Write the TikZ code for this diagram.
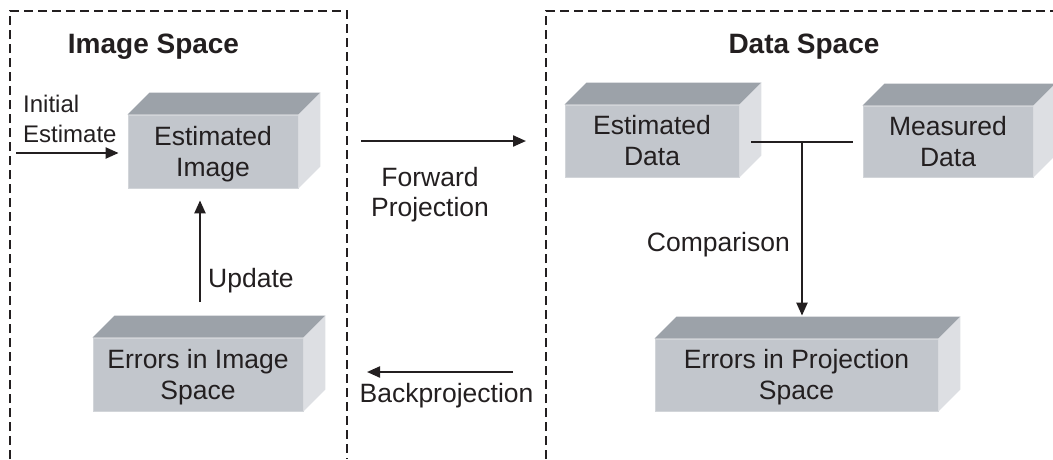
\documentclass[tikz,border=0pt]{standalone}
\usepackage{fontspec}
\setmainfont{Liberation Sans}
\usetikzlibrary{arrows.meta}
\definecolor{frontc}{HTML}{C2C6CC}
\definecolor{topc}{HTML}{9CA2A9}
\definecolor{sidec}{HTML}{DDDFE3}
\definecolor{edgec}{HTML}{D2D5D9}
\definecolor{ink}{HTML}{231F20}
\newcommand\cubestrut{\vrule height 24pt depth 6pt width 0pt}
\newcommand\lblstrut{\vrule height 20pt depth 6pt width 0pt}
\newcommand\cubefaces[1]{%
  \fill[topc] (#1.north west) -- ++(22,-22) -- ([shift={(22,-22)}]#1.north east) -- (#1.north east) -- cycle;
  \fill[sidec] (#1.north east) -- ++(22,-22) -- ([shift={(22,-22)}]#1.south east) -- (#1.south east) -- cycle;}
\begin{document}
\begin{tikzpicture}[x=1pt,y=-1pt,
  cube/.style={fill=frontc, draw=edgec, line width=0.8pt, inner sep=0pt, align=center,
    text=ink, font=\fontsize{26.5}{31}\selectfont},
  lbl/.style={inner sep=0pt, text=ink, font=\fontsize{26.5}{30}\selectfont},
  ttl/.style={inner sep=0pt, text=ink, font=\fontsize{28}{34}\selectfont\bfseries},
  region/.style={draw=ink, line width=2.4pt, dash pattern=on 9pt off 5pt},
  link/.style={draw=ink, line width=2.2pt},
  arr/.style={draw=ink, line width=2.2pt, -{Triangle[length=13pt,width=11pt]}}]
\useasboundingbox (0,0) rectangle (1053,459);

% dashed regions
\draw[region] (10,459) -- (10,11) -- (347,11) -- (347,459);
\draw[region] (546,459) -- (546,11) -- (1060,11);

% titles
\node[ttl, anchor=base] (t1) at (153.5,53) {Image Space};
\node[ttl, anchor=base] (t2) at (804,53) {Data Space};

% boxes
\node[cube, minimum width=170pt, minimum height=73pt] (ei) at (213,151.5) {\cubestrut Estimated\\\cubestrut Image};
\cubefaces{ei}
\node[cube, minimum width=210pt, minimum height=73pt] (eis) at (198,374.5) {\cubestrut Errors in Image\\\cubestrut Space};
\cubefaces{eis}
\node[cube, minimum width=174pt, minimum height=72pt] (ed) at (652,141) {\cubestrut Estimated\\\cubestrut Data};
\cubefaces{ed}
\node[cube, minimum width=170pt, minimum height=71pt] (md) at (948,141.5) {\cubestrut Measured\\\cubestrut Data};
\cubefaces{md}
\node[cube, minimum width=283pt, minimum height=72pt] (ep) at (796.5,375) {\cubestrut Errors in Projection\\\cubestrut Space};
\cubefaces{ep}

% labels
\node[lbl, font=\fontsize{24}{30}\selectfont, align=left, anchor=north west] (init) at (23,92) {\lblstrut Initial\\\lblstrut Estimate};
\node[lbl, align=center, anchor=north] (fwd) at (430,166) {\lblstrut Forward\\\lblstrut Projection};
\node[lbl, anchor=base] (bp) at (446.5,402) {Backprojection};
\node[lbl, anchor=base west] (up) at (208,287) {Update};
\node[lbl, anchor=base east] (cmp) at (790,251) {Comparison};

% connectors
\coordinate (ia) at (16,153);
\draw[arr] (ia) -- ([xshift=-9pt]ia -| ei.west);
\coordinate (upd) at (200,302);
\draw[arr] (upd) -- ([yshift=-12pt]upd |- ei.south);
\coordinate (f1) at (361,141);
\coordinate (f2) at (526,141);
\draw[arr] (f1) -- (f2);
\coordinate (b1) at (513,372);
\coordinate (b2) at (367,372);
\draw[arr] (b1) -- (b2);
\coordinate (j) at (802,142);
\draw[link] ([xshift=12pt]j -| ed.east) -- ([xshift=-10pt]j -| md.west);
\draw[arr] (j) -- ([yshift=23pt]j |- ep.north);
\end{tikzpicture}
\end{document}
